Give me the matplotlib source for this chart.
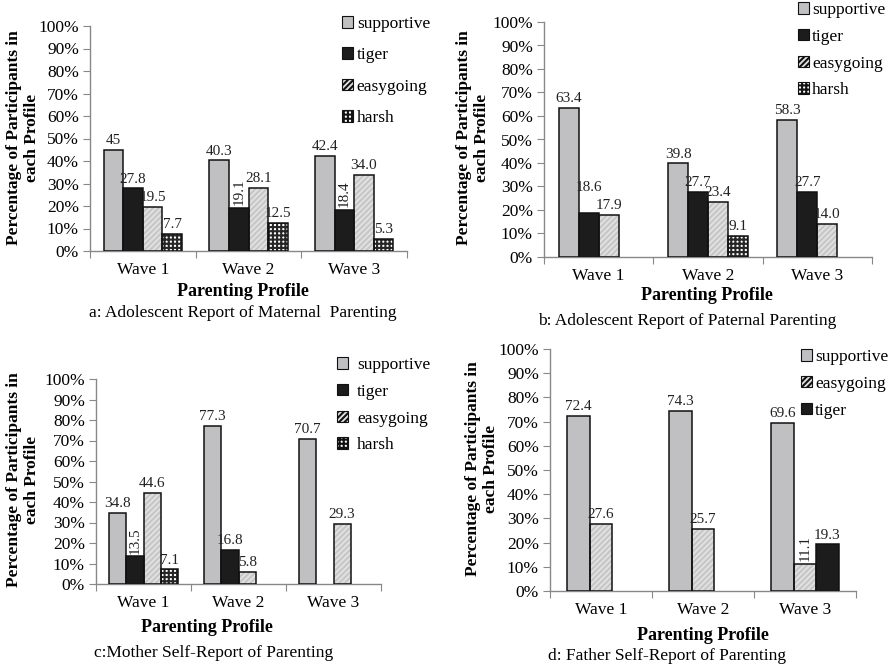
import numpy as np
import matplotlib
matplotlib.use("Agg")
import matplotlib.pyplot as plt
from matplotlib.patches import Patch

plt.rcParams['font.family'] = ['Liberation Serif', 'DejaVu Serif']
plt.rcParams['hatch.linewidth'] = 1.5

# ------------------ datos ------------------
waves = ["Wave 1", "Wave 2", "Wave 3"]
nan = np.nan

# a: Adolescent Report of Maternal Parenting
a_series = ["supportive", "tiger", "easygoing", "harsh"]
a_supportive = [45.0, 40.3, 42.4]
a_tiger = [27.8, 19.1, 18.4]
a_easygoing = [19.5, 28.1, 34.0]
a_harsh = [7.7, 12.5, 5.3]
a_labels = [["45", "40.3", "42.4"], ["27.8", "19.1", "18.4"],
            ["19.5", "28.1", "34.0"], ["7.7", "12.5", "5.3"]]

# b: Adolescent Report of Paternal Parenting
b_series = ["supportive", "tiger", "easygoing", "harsh"]
b_supportive = [63.4, 39.8, 58.3]
b_tiger = [18.6, 27.7, 27.7]
b_easygoing = [17.9, 23.4, 14.0]
b_harsh = [nan, 9.1, nan]
b_labels = [["63.4", "39.8", "58.3"], ["18.6", "27.7", "27.7"],
            ["17.9", "23.4", "14.0"], ["", "9.1", ""]]

# c: Mother Self-Report of Parenting
c_series = ["supportive", "tiger", "easygoing", "harsh"]
c_supportive = [34.8, 77.3, 70.7]
c_tiger = [13.5, 16.8, nan]
c_easygoing = [44.6, 5.8, 29.3]
c_harsh = [7.1, nan, nan]
c_labels = [["34.8", "77.3", "70.7"], ["13.5", "16.8", ""],
            ["44.6", "5.8", "29.3"], ["7.1", "", ""]]

# d: Father Self-Report of Parenting
d_series = ["supportive", "easygoing", "tiger"]
d_supportive = [72.4, 74.3, 69.6]
d_easygoing = [27.6, 25.7, 11.1]
d_tiger = [nan, nan, 19.3]
d_labels = [["72.4", "74.3", "69.6"], ["27.6", "25.7", "11.1"], ["", "", "19.3"]]

# ------------------ estilos ------------------
styles = {
    "supportive": dict(fc="#c0c0c2", hatch=None, hc="#c0c0c2"),
    "tiger": dict(fc="#1c1c1c", hatch=None, hc="#1c1c1c"),
    "easygoing": dict(fc="#e2e2e2", hatch="//////", hc="#c6c6c6"),
    "harsh": dict(fc="#ffffff", hatch="++++", hc="#262626"),
}

W, H = 889, 669
fig = plt.figure(figsize=(W / 100, H / 100), dpi=100)


def px(x, y):
    return x / W, 1 - y / H


def panel(box, series, values, labels, rotated, lifted, group_w, legend_xy, legend_sp, legend_pad,
          ylab_xy, xlab_xy, cap_xy, caption):
    l, t, r, b = box
    ax = fig.add_axes([l / W, 1 - b / H, (r - l) / W, (b - t) / H])
    n = len(series)
    bw = group_w / n
    x = np.arange(len(waves)) + 0.5
    for k, name in enumerate(series):
        st = styles[name]
        xs = x - group_w / 2 + bw * (k + 0.5)
        vals = np.array(values[k], dtype=float)
        ax.bar(xs, vals, bw, color=st["fc"], hatch=st["hatch"], edgecolor=st["hc"], linewidth=0, zorder=2)
        ax.bar(xs, vals, bw, fill=False, edgecolor="#111111", linewidth=1.1, zorder=3)
        for i, v in enumerate(vals):
            if np.isnan(v) or labels[k][i] == "":
                continue
            rot = 90 if (k, i) in rotated else 0
            dy = 2 + lifted.get((k, i), 0)
            ax.annotate(labels[k][i], (xs[i], v), xytext=(0, dy), textcoords="offset points",
                        ha="center", va="bottom", rotation=rot, fontsize=11, color="#222222")
    ax.set_xlim(0, 3)
    ax.set_ylim(0, 100)
    ax.set_yticks(np.arange(0, 101, 10))
    ax.set_yticklabels(["%d%%" % v for v in range(0, 101, 10)], fontsize=12.5)
    ax.set_xticks([0, 1, 2, 3])
    ax.set_xticklabels([])
    ax.set_xticks(x, minor=True)
    ax.set_xticklabels(waves, minor=True, fontsize=12.5)
    ax.tick_params(axis="x", which="minor", length=0, pad=8)
    ax.tick_params(axis="x", which="major", length=5, color="#888888", direction="out")
    ax.tick_params(axis="y", length=5, color="#888888", direction="out", pad=3)
    for s in ["top", "right"]:
        ax.spines[s].set_visible(False)
    for s in ["left", "bottom"]:
        ax.spines[s].set_color("#888888")
        ax.spines[s].set_linewidth(1.0)
    handles = [Patch(facecolor=styles[s]["fc"], hatch=styles[s]["hatch"], edgecolor="#111111", linewidth=0.8)
               for s in series]
    fig.legend(handles, series, loc="upper left", bbox_to_anchor=px(*legend_xy), frameon=False,
               fontsize=12.5, handlelength=0.65, handleheight=0.65, handletextpad=legend_pad,
               labelspacing=legend_sp, borderpad=0, borderaxespad=0)
    fig.text(*px(*ylab_xy), "Percentage of Participants in\neach Profile", rotation=90,
             ha="center", va="center", fontsize=12.5, fontweight="bold", multialignment="center")
    fig.text(*px(*xlab_xy), "Parenting Profile", ha="center", va="center", fontsize=13, fontweight="bold")
    fig.text(*px(*cap_xy), caption, ha="center", va="center", fontsize=12.5)
    return ax


panel((90, 26, 407, 251), a_series, [a_supportive, a_tiger, a_easygoing, a_harsh], a_labels,
      {(1, 1), (1, 2)}, {}, 0.74, (342, 16), 0.88, 0.2, (23, 138), (243, 292), (243, 313),
      "a: Adolescent Report of Maternal  Parenting")
panel((544, 22, 872, 257), b_series, [b_supportive, b_tiger, b_easygoing, b_harsh], b_labels,
      set(), {(1, 0): 12}, 0.73, (798, 2), 0.62, 0.15, (473, 138), (707, 296), (687, 321),
      "b: Adolescent Report of Paternal Parenting")
panel((96, 379, 381, 584), c_series, [c_supportive, c_tiger, c_easygoing, c_harsh], c_labels,
      {(1, 0)}, {}, 0.73, (337, 357), 0.62, 0.5, (23, 480), (207, 627), (214, 653),
      "c:Mother Self-Report of Parenting")
panel((550, 349, 856, 591), d_series, [d_supportive, d_easygoing, d_tiger], d_labels,
      {(1, 2)}, {}, 0.66, (801, 349), 0.62, 0.15, (482, 469), (703, 635), (667, 656),
      "d: Father Self-Report of Parenting")

fig.savefig("out.png", dpi=100)
